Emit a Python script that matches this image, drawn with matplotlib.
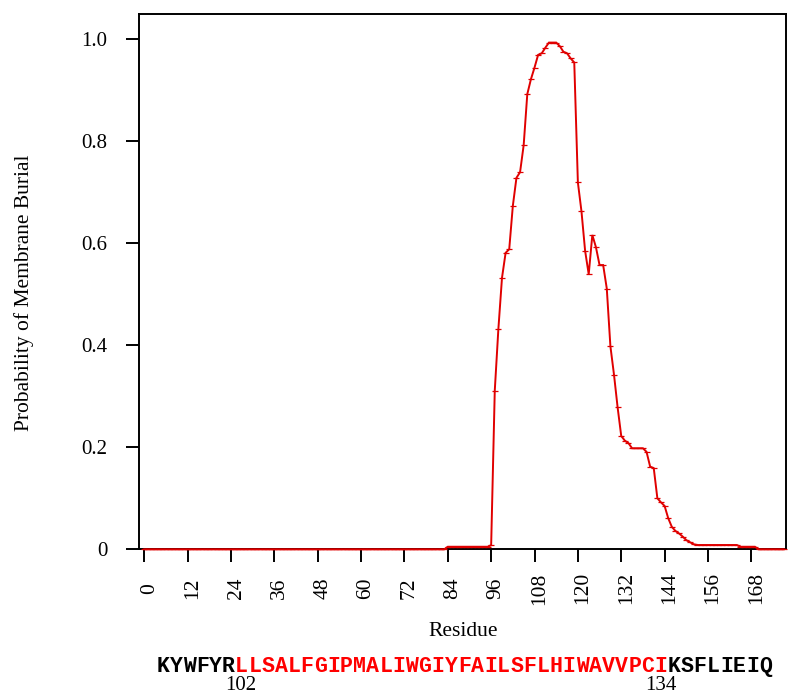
import matplotlib
matplotlib.use('Agg')
import matplotlib.pyplot as plt
import matplotlib.transforms as mtransforms
import numpy as np

# ---------------- data ----------------
values = [
    0, 0, 0, 0, 0, 0, 0, 0, 0, 0, 0, 0, 0, 0, 0, 0, 0, 0, 0, 0,
    0, 0, 0, 0, 0, 0, 0, 0, 0, 0, 0, 0, 0, 0, 0, 0, 0, 0, 0, 0,
    0, 0, 0, 0, 0, 0, 0, 0, 0, 0, 0, 0, 0, 0, 0, 0, 0, 0, 0, 0,
    0, 0, 0, 0, 0, 0, 0, 0, 0, 0, 0, 0, 0, 0, 0, 0, 0, 0, 0, 0,
    0, 0, 0, 0,                                                  # 0-83
    0.005, 0.005, 0.005, 0.005, 0.005, 0.005, 0.005, 0.005,
    0.005, 0.005, 0.005, 0.005,                                  # 84-95
    0.008,                                                       # 96
    0.311, 0.432, 0.532, 0.581, 0.588, 0.673, 0.728, 0.739,      # 97-104
    0.792, 0.892, 0.921, 0.944, 0.969, 0.972, 0.983, 0.993,      # 105-112
    0.993, 0.993, 0.986, 0.975, 0.972, 0.962, 0.954, 0.719,      # 113-120
    0.662, 0.585, 0.539, 0.616, 0.592, 0.557, 0.557, 0.511,      # 121-128
    0.398, 0.342, 0.278, 0.222, 0.213, 0.208, 0.198, 0.198,      # 129-136
    0.198, 0.198, 0.191, 0.162, 0.159, 0.100, 0.092, 0.085,      # 137-144
    0.061, 0.044, 0.036, 0.031, 0.025, 0.018, 0.014, 0.010,      # 145-152
    0.0084, 0.0084, 0.0084, 0.0084, 0.0084, 0.0084, 0.0084,
    0.0084, 0.0084, 0.0084, 0.0084, 0.0084,                      # 153-164
    0.005, 0.005, 0.005, 0.005, 0.005,                           # 165-169
    0, 0, 0, 0, 0, 0, 0, 0,                                      # 170-177
]
residues = np.arange(len(values))

xticks = [0, 12, 24, 36, 48, 60, 72, 84, 96, 108, 120, 132, 144, 156, 168]
xtick_labels = [str(t) for t in xticks]
yticks = [0, 0.2, 0.4, 0.6, 0.8, 1.0]
ytick_labels = ['0', '0.2', '0.4', '0.6', '0.8', '1.0']

seq_before = "KYWFYR"
seq_tm = "LLSALFGIPMALIWGIYFAILSFLHIWAVVPCI"
seq_after = "KSFLIEIQ"
tm_start_label = "102"
tm_end_label = "134"

# ---------------- figure ----------------
W, H = 788, 694
SERIF = 'Liberation Serif'
fig = plt.figure(figsize=(W / 100, H / 100), dpi=100)

left, right, top, bottom = 138.5, 786, 14, 549.3
ax = fig.add_axes([left / W, 1 - bottom / H, (right - left) / W, (bottom - top) / H])

ax.plot(residues, values, color='#e00000', lw=1.4,
        marker='_', ms=4, mew=0.9, solid_joinstyle='miter',
        zorder=3, clip_on=False)

ax.set_xlim(-1.6, 177.6)
ax.set_ylim(0, 1.049)

for sp in ax.spines.values():
    sp.set_linewidth(1.4)
    sp.set_color('black')
    sp.set_zorder(2.5)

ax.set_yticks(yticks)
ax.set_yticklabels(ytick_labels, fontfamily=SERIF, fontsize=15)
ax.set_xticks(xticks)
ax.set_xticklabels(xtick_labels, fontfamily=SERIF, fontsize=15.5, rotation=90)
ax.tick_params(axis='both', direction='out', length=9.4, width=1.4, color='black')
ax.tick_params(axis='y', pad=13)
ax.tick_params(axis='x', pad=18.7)
shift = mtransforms.ScaledTranslation(5 / 100, 0, fig.dpi_scale_trans)
for lab in ax.get_xticklabels():
    lab.set_verticalalignment('center')
    lab.set_transform(lab.get_transform() + shift)

def px(x, y):
    return x / W, 1 - y / H

fig.text(*px(24, 293), 'Probability of Membrane Burial', rotation=90,
         ha='center', va='center', fontfamily=SERIF, fontsize=15.5)
fig.text(*px(463, 636), 'Residue', ha='center', va='baseline',
         fontfamily=SERIF, fontsize=15.5)

# sequence, one character per slot
char_w = 13.1
x0 = 156.5
seq_y = 671.7
pieces = [(seq_before, 'black'), (seq_tm, '#ff0000'), (seq_after, 'black')]
i = 0
for s, col in pieces:
    for ch in s:
        fig.text(*px(x0 + i * char_w + char_w / 2, seq_y), ch, ha='center',
                 va='baseline', fontfamily='Liberation Mono', fontweight='bold',
                 fontsize=15.5, color=col)
        i += 1

n0 = len(seq_before)
n1 = n0 + len(seq_tm) - 1
fig.text(*px(x0 + n0 * char_w + char_w / 2 - 1, 690), tm_start_label, ha='center',
         va='baseline', fontfamily=SERIF, fontsize=15)
fig.text(*px(x0 + n1 * char_w + char_w / 2, 690), tm_end_label, ha='center',
         va='baseline', fontfamily=SERIF, fontsize=15)

fig.savefig('out.png', dpi=100)
